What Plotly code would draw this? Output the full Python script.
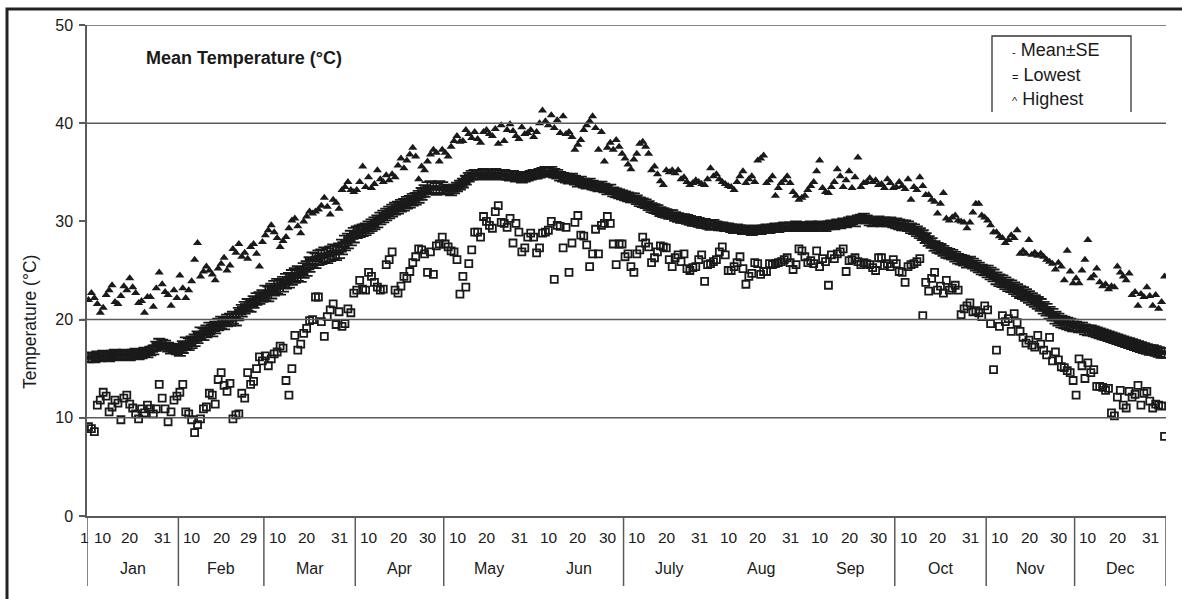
import plotly.graph_objects as go

# ---------------- data ----------------
month_names = ["Jan", "Feb", "Mar", "Apr", "May", "Jun", "July", "Aug", "Sep", "Oct", "Nov", "Dec"]
month_days = [31, 29, 31, 30, 31, 30, 31, 31, 30, 31, 30, 31]
day_ticks = [[1, 10, 20, 31], [10, 20, 29], [10, 20, 31], [10, 20, 30], [10, 20, 31], [10, 20, 30],
             [10, 20, 31], [10, 20, 31], [10, 20, 30], [10, 20, 31], [10, 20, 30], [10, 20, 31]]
# months after which a group separator is drawn
sep_after = ["Jan", "Feb", "Mar", "Apr", "Jun", "Sep", "Oct", "Nov", "Dec"]

mean_jan = [16.1,16.2,16.1,16.3,16.2,16.4,16.3,16.2,16.4,16.5,16.3,16.4,16.5,16.4,16.3,16.5,16.6,16.4,16.5,16.7,16.6,16.8,16.9,17.3,17.6,17.5,17.4,17.2,17.0,17.1,16.9]
mean_feb = [16.9,17.2,17.6,17.5,17.7,17.9,18.2,18.6,18.5,18.8,19.1,18.9,19.2,19.5,19.7,19.6,19.9,20.0,20.2,20.0,20.6,20.9,21.2,21.5,21.4,21.8,22.1,22.2,22.4]
mean_mar = [22.7,22.6,22.9,23.2,23.4,23.3,23.6,23.9,24.0,24.3,24.5,24.7,24.6,25.0,25.2,25.6,26.1,26.0,26.3,26.4,26.6,26.5,26.7,26.9,26.8,27.0,27.4,27.8,28.0,28.3,28.6]
mean_apr = [28.9,29.0,29.1,29.2,29.4,29.6,29.8,30.0,30.3,30.5,30.7,30.9,31.1,31.3,31.4,31.6,31.7,31.9,32.0,32.2,32.3,32.5,32.8,33.1,33.4,33.5,33.4,33.3,33.5,33.4]
mean_may = [33.3,33.2,33.1,33.3,33.5,33.7,33.9,34.2,34.5,34.7,34.8,34.7,34.8,34.9,34.8,34.7,34.8,34.9,34.8,34.7,34.8,34.7,34.6,34.7,34.5,34.6,34.4,34.5,34.6,34.7,34.8]
mean_jun = [34.8,34.9,35.0,35.1,35.0,35.1,34.9,34.8,34.6,34.5,34.4,34.3,34.4,34.2,34.0,34.1,33.9,33.8,33.9,33.7,33.6,33.5,33.6,33.4,33.2,33.3,33.0,32.9,32.8,32.7]
mean_jul = [32.6,32.5,32.4,32.4,32.2,32.0,31.9,31.8,31.6,31.4,31.3,31.2,31.0,30.9,30.8,30.7,30.7,30.5,30.4,30.3,30.3,30.2,30.1,30.0,30.0,29.9,29.8,29.8,29.7,29.6,29.7]
mean_aug = [29.6,29.5,29.5,29.4,29.4,29.3,29.2,29.3,29.2,29.1,29.2,29.1,29.0,29.1,29.2,29.1,29.2,29.3,29.2,29.3,29.4,29.3,29.4,29.5,29.4,29.5,29.4,29.6,29.5,29.4,29.5]
mean_sep = [29.5,29.6,29.4,29.5,29.6,29.5,29.4,29.6,29.7,29.6,29.8,29.7,29.9,29.8,30.0,30.1,29.9,30.2,30.3,30.4,30.2,30.0,29.9,30.0,30.1,29.9,30.0,29.9,30.0,29.8]
mean_oct = [29.8,29.7,29.6,29.6,29.5,29.3,29.2,29.0,28.8,28.6,28.3,28.0,27.8,27.5,27.3,27.2,27.0,26.8,26.7,26.6,26.4,26.2,26.1,26.0,25.8,25.9,25.7,25.5,25.3,25.1,25.0]
mean_nov = [24.9,24.7,24.5,24.2,24.0,23.9,23.7,23.5,23.4,23.2,23.0,22.8,22.7,22.5,22.3,22.1,21.9,21.7,21.5,21.2,21.0,20.7,20.5,20.2,20.0,19.8,19.7,19.6,19.5,19.4]
mean_dec = [19.3,19.2,19.2,19.0,18.9,18.9,18.8,18.7,18.6,18.5,18.4,18.3,18.2,18.1,18.0,17.9,17.8,17.7,17.6,17.5,17.4,17.3,17.2,17.1,17.0,16.9,16.9,16.8,16.7,16.6,16.6]

# standard error read per month (thickness of the error-bar band)
se_month = [0.45, 0.6, 0.75, 0.6, 0.45, 0.45, 0.45, 0.4, 0.4, 0.5, 0.6, 0.5]

lo_jan = [9.1,8.9,8.6,11.3,11.8,12.6,12.2,10.6,11.1,11.8,11.5,9.8,12.0,12.3,11.4,11.0,10.4,9.9,10.9,10.5,11.3,10.9,10.4,10.9,13.4,12.0,10.9,9.6,10.6,11.8,12.2]
lo_feb = [12.6,13.4,10.6,10.4,9.8,8.5,9.3,9.9,10.9,11.1,12.5,12.3,11.4,13.9,14.6,13.3,12.7,13.5,9.9,10.3,10.4,12.5,12.0,14.6,13.4,13.7,15.0,16.2,15.8]
lo_mar = [16.3,15.3,16.0,16.5,16.7,17.3,17.1,13.8,12.3,15.0,18.4,16.9,17.5,18.6,19.1,19.9,20.0,22.3,22.3,19.8,18.3,20.3,21.0,21.6,19.5,20.8,19.3,19.6,21.1,20.7,22.7]
lo_apr = [23.0,24.0,23.1,23.0,24.8,24.4,23.8,23.3,23.0,23.1,25.6,26.1,26.9,23.0,22.7,23.4,24.4,24.2,24.9,25.8,26.4,27.2,27.1,26.7,24.8,26.9,24.6,27.5,27.7,28.4]
lo_may = [27.7,27.4,27.0,26.9,26.1,22.6,24.4,23.3,25.7,27.1,28.9,28.9,28.4,30.5,30.0,29.6,29.3,31.0,31.6,29.9,29.8,29.4,30.3,27.8,29.8,28.9,26.9,27.3,28.4,28.8,28.4]
lo_jun = [26.8,27.3,28.8,28.9,29.1,30.0,24.1,29.6,29.5,27.3,29.4,24.8,27.8,29.9,30.6,28.6,28.5,27.6,25.4,26.7,29.2,26.7,29.6,29.8,30.5,29.8,27.7,25.6,27.7,27.7]
lo_jul = [26.4,26.7,25.4,24.8,26.7,27.1,28.4,27.8,27.4,25.8,26.3,26.9,27.5,27.4,27.3,26.1,25.4,26.3,26.6,25.9,26.7,25.2,25.0,25.3,25.4,26.1,26.6,23.9,25.6,25.7,25.9]
lo_aug = [26.1,26.9,27.4,26.6,25.0,25.0,25.4,25.8,26.4,25.2,23.6,24.4,24.7,25.8,25.7,24.6,24.9,24.9,25.7,25.6,25.7,25.8,25.9,26.1,26.3,25.8,25.1,25.6,27.2,27.0,26.4]
lo_sep = [25.8,26.0,25.7,27.0,25.4,26.2,25.9,23.5,26.6,26.2,26.7,26.9,27.2,24.9,26.0,26.1,26.3,25.9,25.6,25.8,25.7,25.6,25.3,25.0,26.3,26.3,25.5,25.7,25.4,26.1]
lo_oct = [25.7,24.9,24.8,23.8,25.4,25.6,25.7,25.9,26.2,20.4,23.8,22.9,24.2,24.8,23.0,23.4,22.7,24.0,23.0,23.2,23.5,23.0,20.5,21.1,21.4,21.7,20.8,20.9,20.7,20.3,21.4]
lo_nov = [21.0,19.6,14.9,16.9,19.3,20.4,19.8,20.1,18.8,20.6,19.7,18.8,18.2,17.6,17.9,17.4,17.2,18.4,17.5,16.9,16.4,18.2,15.8,16.7,15.9,15.2,15.1,14.8,14.6,13.8]
lo_dec = [12.3,16.0,15.3,14.0,15.6,14.6,14.9,13.2,13.2,13.1,12.8,13.0,10.5,10.2,12.1,12.8,11.3,11.0,12.7,12.1,12.4,13.3,11.3,12.5,12.7,11.7,11.0,11.4,11.3,11.2,8.1]

hi_jan = [22.0,22.7,22.2,21.6,20.7,21.2,22.5,23.0,23.5,21.8,21.6,22.4,23.4,23.0,24.2,23.3,22.7,21.7,21.9,20.7,22.3,22.3,21.3,23.2,24.8,23.6,22.8,22.5,21.4,23.0,22.2]
hi_feb = [24.5,23.2,22.2,23.0,23.9,26.1,27.8,24.4,24.9,25.4,25.0,24.6,24.0,25.2,25.7,26.3,25.0,25.5,27.2,26.8,27.7,26.4,26.8,26.2,27.4,27.7,26.7,25.4,27.9]
hi_mar = [28.6,29.1,29.6,28.9,28.3,27.4,28.0,28.4,29.3,30.1,30.3,29.5,28.8,30.0,30.5,31.0,30.8,31.0,31.2,31.6,32.4,31.5,30.7,32.2,31.9,31.3,33.2,33.5,34.0,33.2,33.0]
hi_apr = [33.2,34.0,35.6,33.5,34.5,33.4,33.8,35.2,34.3,34.0,34.7,34.2,34.8,34.5,35.7,36.4,35.4,36.2,36.8,37.5,36.6,34.3,35.6,35.2,36.1,36.8,37.3,37.0,36.1,37.3]
hi_may = [37.0,36.6,37.6,38.2,38.7,38.1,38.2,39.3,38.9,38.5,39.1,38.4,38.0,39.1,39.3,38.9,38.7,39.4,37.9,39.8,38.2,39.3,39.9,39.2,38.7,38.4,39.6,38.9,39.0,39.3,38.6]
hi_jun = [39.1,40.0,41.3,40.2,39.8,40.8,39.5,40.3,39.0,40.7,38.9,39.1,38.6,37.3,37.8,38.3,39.3,39.8,40.2,40.7,39.5,37.3,39.1,36.1,37.5,38.0,37.3,38.3,37.6,36.9]
hi_jul = [36.4,35.8,35.3,36.3,36.9,37.9,38.1,37.6,36.9,35.2,35.6,34.8,34.1,33.7,35.2,35.0,35.2,34.9,35.2,34.3,34.5,34.0,33.7,33.9,34.2,34.0,33.8,33.7,34.3,35.4,34.6]
hi_aug = [34.8,34.3,34.0,33.8,33.6,33.5,33.2,34.0,34.6,35.1,33.9,34.3,34.6,34.0,36.2,36.4,36.7,33.9,34.2,34.6,32.6,33.4,33.9,34.2,34.6,33.9,33.0,32.6,32.2,32.4,32.6]
hi_sep = [33.2,33.6,34.0,35.1,36.2,33.4,33.0,32.9,33.5,34.0,35.3,34.6,33.5,34.2,35.1,33.4,34.5,36.5,33.5,33.9,34.0,34.4,34.0,34.2,33.7,33.8,33.4,34.3,33.9,33.4]
hi_oct = [33.5,34.0,33.6,33.3,34.3,32.2,33.5,33.2,34.5,33.6,32.7,32.7,32.2,32.0,30.8,31.8,32.9,30.3,30.1,30.4,30.6,30.1,30.0,29.9,29.3,29.9,30.9,31.8,31.8,30.6,30.4]
hi_nov = [30.1,29.6,28.9,28.9,28.5,28.3,27.8,28.1,28.6,28.3,29.1,26.7,27.0,26.7,28.1,26.6,26.8,26.5,26.7,26.4,26.1,25.9,25.7,25.1,25.8,25.4,24.0,27.0,24.9,23.7]
hi_dec = [24.2,23.7,25.0,26.1,28.1,24.2,24.5,25.2,23.8,23.4,23.6,23.1,23.4,23.3,25.4,24.8,24.4,24.0,24.7,22.5,22.8,21.4,22.6,22.3,23.3,22.4,21.4,22.5,21.1,21.8,24.4]

mean_t = (mean_jan + mean_feb + mean_mar + mean_apr + mean_may + mean_jun +
          mean_jul + mean_aug + mean_sep + mean_oct + mean_nov + mean_dec)
low_t = lo_jan + lo_feb + lo_mar + lo_apr + lo_may + lo_jun + lo_jul + lo_aug + lo_sep + lo_oct + lo_nov + lo_dec
high_t = hi_jan + hi_feb + hi_mar + hi_apr + hi_may + hi_jun + hi_jul + hi_aug + hi_sep + hi_oct + hi_nov + hi_dec
assert len(mean_t) == len(low_t) == len(high_t) == sum(month_days) == 366

se_t = []
for se, nd in zip(se_month, month_days):
    se_t += [se] * nd

days = list(range(1, 367))

# ---------------- layout helpers ----------------
W, H = 1182, 599
L, R, T, B = 87, 16, 25, 83
PW, PH = W - L - R, H - T - B
INK = "#1a1a1a"
GRID = "#5a5a5a"
FONT = "Liberation Sans, Arial, sans-serif"


def px_x(px):
    return (px - L) / PW


def px_y(py):
    return (H - B - py) / PH


fig = go.Figure()

fig.add_trace(go.Scatter(
    x=days, y=high_t, mode="markers", name="Highest",
    marker=dict(symbol="triangle-up", size=8, color=INK, line=dict(width=0)),
))
fig.add_trace(go.Scatter(
    x=days, y=low_t, mode="markers", name="Lowest",
    marker=dict(symbol="square-open", size=7, color=INK, line=dict(width=1.8)),
))
fig.add_trace(go.Scatter(
    x=days, y=mean_t, mode="markers", name="Mean±SE",
    marker=dict(symbol="line-ew", size=11, color=INK, line=dict(width=3.5, color=INK)),
    error_y=dict(type="data", array=se_t, visible=True, color=INK, thickness=1.8, width=6),
))

shapes = []
# horizontal grid lines (no line at 30 in the original)
for gy in [10, 20, 40, 50]:
    shapes.append(dict(type="line", xref="paper", yref="y", x0=px_x(L - 6), x1=1, y0=gy, y1=gy,
                       line=dict(color=GRID, width=1.5)))

# month group separators below the axis
cum = 0
bounds = {}
for name, nd in zip(month_names, month_days):
    cum += nd
    bounds[name] = cum
sep_y0, sep_y1 = 0, px_y(586)
shapes.append(dict(type="line", xref="x", yref="paper", x0=0.5, x1=0.5, y0=sep_y0, y1=sep_y1,
                   line=dict(color=GRID, width=1.5)))
for name in sep_after:
    xb = bounds[name] + 0.5
    shapes.append(dict(type="line", xref="x", yref="paper", x0=xb, x1=xb, y0=sep_y0, y1=sep_y1,
                       line=dict(color=GRID, width=1.5)))

# legend box (open at the bottom)
lx0, lx1, ly0, ly1 = px_x(992), px_x(1131), px_y(36), px_y(112)
shapes.append(dict(type="path", xref="paper", yref="paper",
                   path=f"M {lx0} {ly1} L {lx0} {ly0} L {lx1} {ly0} L {lx1} {ly1}",
                   line=dict(color="#333", width=1.3)))

# outer frame
fx0, fy0 = px_x(7), px_y(9)
shapes.append(dict(type="path", xref="paper", yref="paper",
                   path=f"M {fx0} {px_y(H + 10)} L {fx0} {fy0} L {px_x(W + 10)} {fy0}",
                   line=dict(color="#222", width=3)))

annotations = []
# day labels and month labels
start = 0
for mi, (name, nd, ticks) in enumerate(zip(month_names, month_days, day_ticks)):
    for d in ticks:
        if d == 1:
            ann = dict(x=px_x(84), xref="paper")
        elif mi == 0 and d == 10:
            ann = dict(x=start + d - 4.0, xref="x")
        else:
            ann = dict(x=start + d - 4.8, xref="x")
        ann.update(y=px_y(537), yref="paper", text=str(d), showarrow=False,
                   font=dict(size=15.5, color=INK, family=FONT), xanchor="center", yanchor="middle")
        annotations.append(ann)
    annotations.append(dict(x=start + (nd + 1) / 2, y=px_y(568), xref="x", yref="paper", text=name,
                            showarrow=False, font=dict(size=16, color=INK, family=FONT),
                            xanchor="center", yanchor="middle"))
    start += nd

# chart title inside plot
annotations.append(dict(x=px_x(144), y=px_y(58), xref="paper", yref="paper",
                        text="<b>Mean Temperature (°C)</b>", showarrow=False,
                        font=dict(size=18, color=INK, family=FONT), xanchor="left", yanchor="middle"))
# y axis title
annotations.append(dict(x=px_x(30), y=px_y(322), xref="paper", yref="paper", text="Temperature (°C)",
                        showarrow=False, textangle=-90, font=dict(size=17.5, color=INK, family=FONT),
                        xanchor="center", yanchor="middle"))
# legend entries
leg_items = [("-", "Mean±SE", 50), ("=", "Lowest", 75), ("^", "Highest", 99)]
for sym, lab, py in leg_items:
    annotations.append(dict(x=px_x(1010), y=px_y(py), xref="paper", yref="paper",
                            text=f"<span style='font-size:11px'>{sym}</span> {lab}", showarrow=False,
                            font=dict(size=18, color=INK, family=FONT), xanchor="left", yanchor="middle"))

fig.update_layout(
    width=W, height=H,
    margin=dict(l=L, r=R, t=T, b=B, pad=0),
    paper_bgcolor="white", plot_bgcolor="white",
    showlegend=False,
    font=dict(family=FONT, color=INK, size=16),
    xaxis=dict(range=[0.5, 366.5], showgrid=False, zeroline=False, showticklabels=False,
               ticks="", showline=True, linecolor=GRID, linewidth=1.5, fixedrange=True),
    yaxis=dict(range=[0, 50], tickvals=[0, 10, 20, 30, 40, 50], showgrid=False, zeroline=False,
               ticks="outside", ticklen=6, tickcolor=GRID, tickwidth=1.5,
               showline=True, linecolor=GRID, linewidth=1.5,
               tickfont=dict(size=16, color=INK, family=FONT), ticklabelstandoff=3),
    shapes=shapes,
    annotations=annotations,
)

fig.write_html("out.html")
